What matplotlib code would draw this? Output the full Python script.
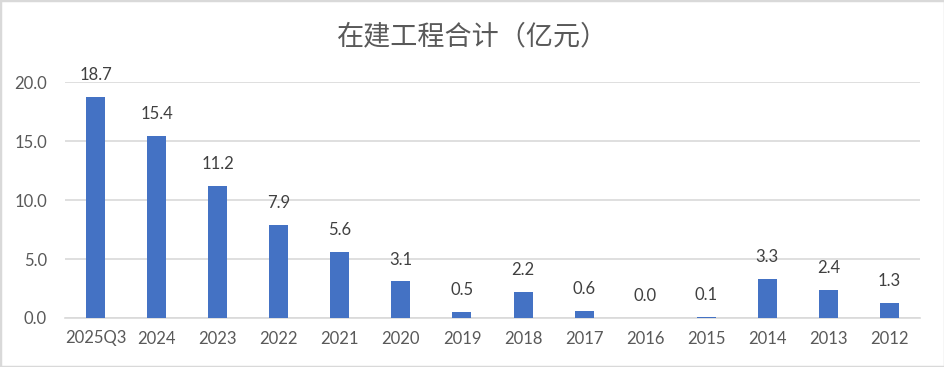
import matplotlib
matplotlib.use("Agg")
import matplotlib.pyplot as plt
from matplotlib.patches import Rectangle

categories = ["2025Q3", "2024", "2023", "2022", "2021", "2020", "2019", "2018",
              "2017", "2016", "2015", "2014", "2013", "2012"]
values = [18.7, 15.4, 11.2, 7.9, 5.6, 3.1, 0.5, 2.2, 0.6, 0.0, 0.1, 3.3, 2.4, 1.3]
yticks = [0, 5, 10, 15, 20]
title = "在建工程合计（亿元）"

plt.rcParams['font.family'] = ['Lato', 'Noto Sans CJK SC', 'DejaVu Sans']

fig = plt.figure(figsize=(9.45, 3.67), dpi=100)
ax = fig.add_axes([65/945, 1-318/367, 855/945, (318-82)/367])

x = list(range(len(categories)))
bars = ax.bar(x, values, width=0.31, color="#4472C4", zorder=3)
for xi, v in zip(x, values):
    ax.annotate(f"{v:.1f}", (xi, v), xytext=(0, 10), textcoords="offset points",
                ha="center", va="bottom", fontsize=12, color="#404040")

ax.set_xlim(-0.5, len(categories) - 0.5)
ax.set_ylim(0, 20)
ax.set_yticks(yticks)
ax.set_yticklabels([f"{t:.1f}" for t in yticks])
ax.set_xticks(x)
ax.set_xticklabels(categories)
ax.tick_params(axis="both", length=0, labelsize=12, labelcolor="#595959")
ax.tick_params(axis="y", pad=13)
ax.tick_params(axis="x", pad=9)
ax.grid(axis="y", color="#D9D9D9", linewidth=1.2, zorder=0)
for s in ["top", "right", "left"]:
    ax.spines[s].set_visible(False)
ax.spines["bottom"].set_color("#D9D9D9")
ax.spines["bottom"].set_linewidth(1.2)

fig.text(0.5, 1-37/367, title, ha="center", va="center", fontsize=19.5,
         color="#595959", family=['Noto Sans CJK SC', 'DejaVu Sans'], fontweight="light")

fig.patches.append(Rectangle((0, 0), 1, 1, transform=fig.transFigure, fill=False,
                             edgecolor="#D9D9D9", linewidth=2.5, zorder=10))

fig.savefig("out.png", dpi=100)
